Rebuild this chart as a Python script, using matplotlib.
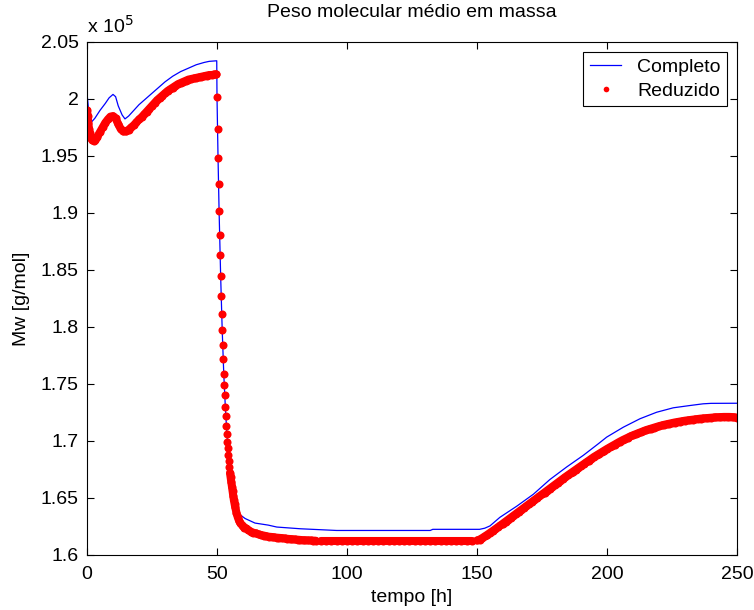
import numpy as np
import matplotlib as mpl
mpl.use('Agg')
import matplotlib.pyplot as plt
from matplotlib.ticker import FormatStrFormatter

plt.rcParams['font.family'] = ['Liberation Sans', 'DejaVu Sans']

# Mw in units of 1e5 g/mol

# "Completo" (full model), blue line
t_full = [0, 0.5, 1, 1.8, 3, 5, 7, 8.5, 10, 11, 12, 13.5, 14.6, 16, 18, 20, 22, 24,
          27, 30, 33, 36, 39, 42, 45, 47, 49.9,
          50.0, 50.4, 50.8, 51.4, 52.0, 52.6, 53.2, 53.8, 54.4, 54.8, 55.5, 56.3, 57,
          58.2, 60.8, 64.6, 69.7, 73, 82, 96, 132, 133, 151, 153, 155, 158.8, 165.3,
          171.7, 178, 184.5, 190.9, 196.7, 199.9, 206.3, 212.7, 219.1, 225.5, 231.9,
          237, 240, 250]
mw_full = [2.005, 1.993, 1.984, 1.980, 1.983, 1.990, 1.996, 2.001, 2.004, 2.002, 1.994,
           1.986, 1.9825, 1.985, 1.990, 1.995, 1.999, 2.003, 2.009, 2.015, 2.020, 2.024,
           2.027, 2.030, 2.032, 2.033, 2.0335,
           2.002, 1.948, 1.902, 1.845, 1.7975, 1.759, 1.730, 1.7065, 1.6875, 1.677,
           1.665, 1.650, 1.643, 1.6365, 1.632, 1.628, 1.6262, 1.6245, 1.623, 1.6215,
           1.6215, 1.6225, 1.6225, 1.6235, 1.6255, 1.633, 1.6428, 1.6533, 1.6661,
           1.6772, 1.6874, 1.6976, 1.7034, 1.7121, 1.7195, 1.7252, 1.7291, 1.7311,
           1.7326, 1.733, 1.7331]

# "Reduzido" (reduced model), red dots
t_red_a = [0, 0.25, 0.5, 0.75, 1, 1.5, 2, 2.5, 3, 3.5] + list(np.arange(4, 50)) + [49.6]
mw_red_a = [1.990, 1.985, 1.979, 1.974, 1.970, 1.966, 1.964, 1.9635, 1.964, 1.9655,
            1.967, 1.971, 1.975, 1.979, 1.982, 1.9845, 1.985, 1.983, 1.978, 1.9735,
            1.9715, 1.9715, 1.973, 1.975, 1.977, 1.9795, 1.982, 1.984, 1.9865, 1.989,
            1.9915, 1.994, 1.9965, 1.999, 2.001, 2.003, 2.005, 2.007, 2.0085, 2.010,
            2.0115, 2.013, 2.014, 2.015, 2.016, 2.017, 2.0175, 2.018, 2.0185, 2.019,
            2.0195, 2.020, 2.0205, 2.021, 2.021, 2.0215,
            2.0215]

# fast drop after t = 50 h, dots are well separated here
t_red_b = [49.8, 50.0, 50.2, 50.4, 50.6, 50.8, 51.0, 51.2, 51.4, 51.6, 51.8, 52.0, 52.2,
           52.4, 52.6, 52.8, 53.0, 53.2, 53.4, 53.6, 53.8, 54.0, 54.2, 54.4, 54.6, 54.8]
mw_red_b = [2.0215, 2.002, 1.974, 1.948, 1.925, 1.902, 1.881, 1.863, 1.845, 1.827,
            1.8115, 1.7975, 1.7845, 1.7715, 1.759, 1.7495, 1.740, 1.730, 1.7215, 1.7135,
            1.7065, 1.6995, 1.6935, 1.6875, 1.682, 1.677]

t_red_c = [55.0, 55.25, 55.5, 55.75, 56, 56.25, 56.5, 56.75, 57, 57.5, 58, 58.5, 59,
           59.5, 60, 60.5, 61] + list(np.arange(62, 89))
mw_red_c = [1.672, 1.668, 1.664, 1.660, 1.656, 1.652, 1.648, 1.645, 1.642, 1.637, 1.633,
            1.630, 1.628, 1.6265, 1.625, 1.624, 1.6235,
            1.622, 1.6205, 1.6195, 1.619, 1.618, 1.6175, 1.617, 1.6165, 1.616, 1.6158,
            1.6155, 1.6152, 1.615, 1.6148, 1.6145, 1.6142, 1.614, 1.6138, 1.6136,
            1.6134, 1.6132, 1.613, 1.6129, 1.6128, 1.6127, 1.6126, 1.6125]

t_red_d = list(np.arange(90, 150, 2))
mw_red_d = [1.6125, 1.6125, 1.6125, 1.6125, 1.6125, 1.6125, 1.6125, 1.6125, 1.6125, 1.6125,
            1.6125, 1.6125, 1.6125, 1.6125, 1.6125, 1.6125, 1.6125, 1.6125, 1.6125, 1.6125,
            1.6125, 1.6125, 1.6125, 1.6125, 1.6125, 1.6125, 1.6125, 1.6125, 1.6125, 1.6125]

t_red_e = list(np.arange(150, 251))
mw_red_e = [1.6127, 1.6135, 1.6148, 1.6163, 1.6178, 1.6194, 1.621, 1.6226, 1.6243, 1.6259,
            1.6276, 1.6293, 1.631, 1.6327, 1.6344, 1.6361, 1.6378, 1.6395, 1.6412, 1.6429,
            1.6446, 1.6463, 1.648, 1.6497, 1.6514, 1.6531, 1.6548, 1.6565, 1.6582, 1.6599,
            1.6616, 1.6633, 1.665, 1.6667, 1.6684, 1.67, 1.6716, 1.6732, 1.6748, 1.6764,
            1.678, 1.6796, 1.6812, 1.6828, 1.6844, 1.686, 1.6874, 1.6888, 1.6902, 1.6916,
            1.693, 1.6943, 1.6956, 1.6969, 1.6982, 1.6995, 1.7007, 1.7018, 1.7029, 1.704,
            1.705, 1.7059, 1.7068, 1.7077, 1.7086, 1.7095, 1.7102, 1.7109, 1.7116, 1.7123,
            1.713, 1.7136, 1.7142, 1.7147, 1.7152, 1.7157, 1.7162, 1.7166, 1.717, 1.7174,
            1.7178, 1.7181, 1.7184, 1.7187, 1.719, 1.7193, 1.7196, 1.7198, 1.72, 1.7202,
            1.7204, 1.7206, 1.7208, 1.7209, 1.721, 1.7211, 1.7211, 1.7211, 1.721, 1.7208,
            1.7205]

t_red = t_red_a + t_red_b + t_red_c + t_red_d + t_red_e
mw_red = mw_red_a + mw_red_b + mw_red_c + mw_red_d + mw_red_e

x_ticks = [0, 50, 100, 150, 200, 250]
y_ticks = [1.6, 1.65, 1.7, 1.75, 1.8, 1.85, 1.9, 1.95, 2.0, 2.05]

FS = 14
DOT = 5.8  # marker size in points

fig = plt.figure(figsize=(7.54, 6.10), dpi=100)
ax = fig.add_axes([0.1154, 0.0902, 0.862, 0.8410])

ax.plot(t_full, mw_full, color='#0000ff', lw=0.9, label='Completo')

# the dots sit so close in the slow parts that they merge into a band
for tt, mm in [(t_red_a, mw_red_a), (t_red_c, mw_red_c),
               (t_red_d, mw_red_d), (t_red_e, mw_red_e)]:
    ax.plot(tt, mm, color='#ff0000', lw=DOT, solid_capstyle='round',
            solid_joinstyle='round')
ax.plot(t_red, mw_red, ls='none', marker='o', ms=DOT, mew=0, color='#ff0000',
        label='Reduzido')

ax.set_xlim(0, 250)
ax.set_ylim(1.6, 2.05)
ax.set_xticks(x_ticks)
ax.set_yticks(y_ticks)
ax.yaxis.set_major_formatter(FormatStrFormatter('%g'))
ax.tick_params(direction='in', length=5, width=0.8, top=True, right=True,
               labelsize=FS)
ax.tick_params(axis='x', pad=8)
ax.tick_params(axis='y', pad=6)
for s in ax.spines.values():
    s.set_linewidth(0.8)

ax.set_xlabel('tempo [h]', fontsize=FS, labelpad=4)
ax.set_ylabel('Mw [g/mol]', fontsize=FS, labelpad=8)
ax.set_title('Peso molecular médio em massa', fontsize=FS, pad=18)
ax.text(0, 1.01, r'x 10$^{5}$', transform=ax.transAxes, fontsize=FS,
        ha='left', va='bottom')

leg = ax.legend(loc='upper right', fontsize=FS, numpoints=1, fancybox=False,
                framealpha=1, edgecolor='black', borderaxespad=0.5,
                handlelength=1.6, handletextpad=0.8, markerscale=0.7,
                labelspacing=0.3, borderpad=0.35)
leg.get_frame().set_linewidth(0.8)

fig.savefig('out.png', dpi=100)
